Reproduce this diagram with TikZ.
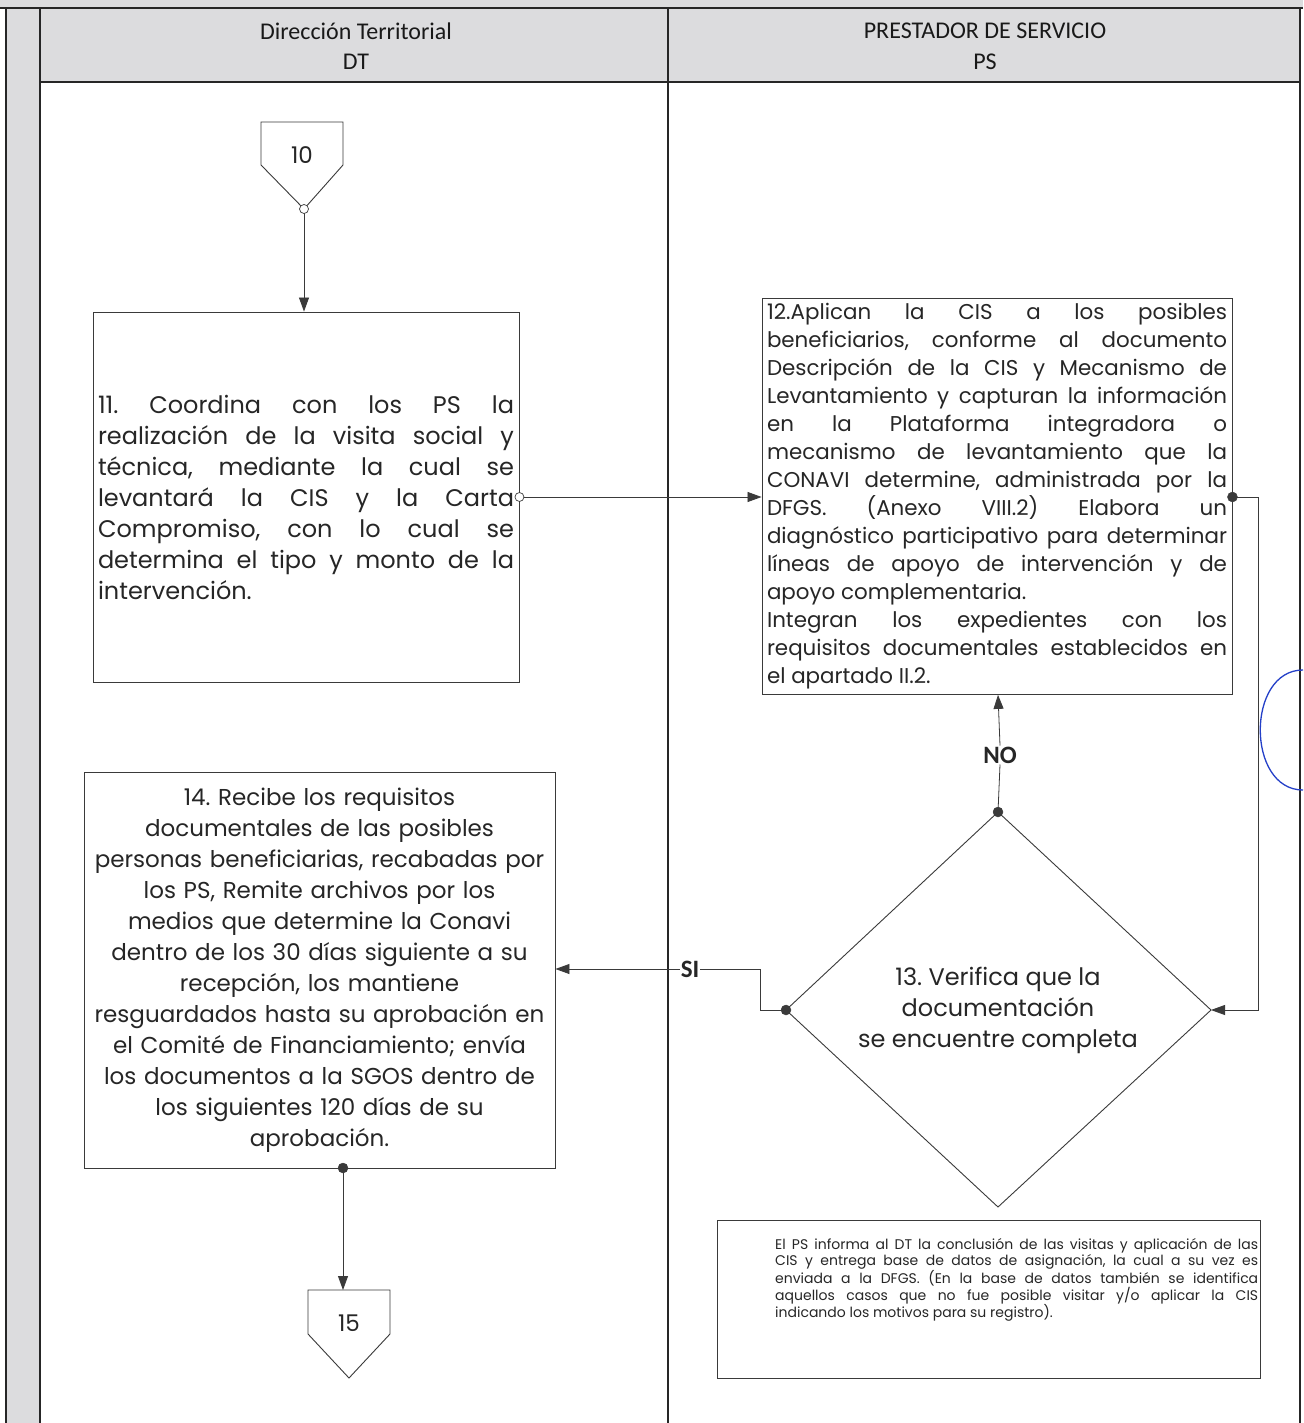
\documentclass[tikz,border=0pt]{standalone}
\usepackage{fontspec}
\setmainfont{Poppins}
\newfontfamily\hdrfont{Carlito}
\usetikzlibrary{arrows.meta,calc}
\frenchspacing
\definecolor{lanegray}{HTML}{DCDCDE}
\definecolor{inkgray}{HTML}{3A3A3A}
\definecolor{penblue}{HTML}{2440C8}

\begin{document}
\begin{tikzpicture}[x=1pt,y=-1pt,
  laneline/.style={draw=black!85, line width=1.5pt},
  boxline/.style={draw=inkgray, line width=0.9pt},
  flow/.style={draw=inkgray, line width=0.8pt},
  tip/.style={-{Triangle[length=14pt,width=10pt]}},
  hdr/.style={font=\hdrfont\fontsize{24}{31}\selectfont, text=black!90},
  stepbox/.style={boxline, inner sep=5pt, anchor=center, text=black!85},
  answer/.style={font=\hdrfont\bfseries\fontsize{25}{25}\selectfont, fill=white, inner sep=1pt, text=black!85},
  dot/.style={fill=inkgray, draw=inkgray},
  ring/.style={fill=white, draw=inkgray, line width=0.7pt}
]
\useasboundingbox (0,0) rectangle (1303,1423);
\fill[white] (0,0) rectangle (1303,1423);

% frame, left strip and lane headers
\fill[lanegray] (0,0) rectangle (1303,8);
\fill[lanegray] (6,8) rectangle (40,1423);
\fill[lanegray] (40,8) rectangle (1300,82);
\draw[laneline] (0,8) -- (1303,8);
\draw[laneline] (40,82) -- (1300,82);
\draw[laneline] (6,8) -- (6,1423);
\draw[laneline] (40,8) -- (40,1423);
\draw[laneline] (668,8) -- (668,1423);
\draw[laneline] (1300,8) -- (1300,1423);

\node[hdr] (hDT) at (356,31) {Dirección Territorial};
\node[hdr] (hDTs) at (356,62) {DT};
\node[hdr] (hPS) at (985,31) {PRESTADOR DE SERVICIO};
\node[hdr] (hPSs) at (985,62) {PS};

% off-page connector 10
\coordinate (p10a) at (261,122);
\coordinate (p10b) at (343,122);
\coordinate (p10tip) at (304,209);
\draw[boxline] (p10a) -- (p10b) -- (343,165) -- (p10tip) -- (261,165) -- cycle;
\node[font=\fontsize{23}{23}\selectfont, text=black!85] (n10) at (302,155) {10};

% step 11
\node[stepbox, minimum width=426pt, minimum height=370pt, text width=416pt,
      align=justify, font=\fontsize{24}{31}\selectfont] (b11) at (306,497)
{11.\ Coordina con los PS la\linebreak
realización de la visita social y\linebreak
técnica, mediante la cual se\linebreak
levantará la CIS y la Carta\linebreak
Compromiso, con lo cual se\linebreak
determina el tipo y monto de la\linebreak
intervención.};

% step 12
\node[stepbox, minimum width=470pt, minimum height=395pt, text width=460pt,
      align=justify, font=\fontsize{21.4}{28}\selectfont] (b12) at (997,496.5)
{12.Aplican la CIS a los posibles\linebreak
beneficiarios, conforme al documento\linebreak
Descripción de la CIS y Mecanismo de\linebreak
Levantamiento y capturan la información\linebreak
en la Plataforma integradora o\linebreak
mecanismo de levantamiento que la\linebreak
CONAVI determine, administrada por la\linebreak
DFGS. (Anexo VIII.2) Elabora un\linebreak
diagnóstico participativo para determinar\linebreak
líneas de apoyo de intervención y de\linebreak
apoyo complementaria.\par
Integran los expedientes con los\linebreak
requisitos documentales establecidos en\linebreak
el apartado II.2.};

% decision 13
\coordinate (d13t) at (998,812);
\coordinate (d13l) at (786,1010);
\coordinate (d13r) at (1211,1010);
\coordinate (d13b) at (998,1207);
\draw[boxline] (d13t) -- (d13r) -- (d13b) -- (d13l) -- cycle;
\node[font=\fontsize{24}{31}\selectfont, align=center, text=black!85] (d13) at (998,1010)
{13. Verifica que la\\ documentación\\ se encuentre completa};

% step 14
\node[stepbox, minimum width=471pt, minimum height=396pt, text width=461pt,
      align=center, font=\fontsize{23}{31}\selectfont] (b14) at (319.5,970)
{14. Recibe los requisitos\\
documentales de las posibles\\
personas beneficiarias, recabadas por\\
los PS, Remite archivos por los\\
medios que determine la Conavi\\
dentro de los 30 días siguiente a su\\
recepción, los mantiene\\
resguardados hasta su aprobación en\\
el Comité de Financiamiento; envía\\
los documentos a la SGOS dentro de\\
los siguientes 120 días de su\\
aprobación.};

% off-page connector 15
\coordinate (p15a) at (308,1290);
\coordinate (p15b) at (390,1290);
\coordinate (p15tip) at (349,1378);
\draw[boxline] (p15a) -- (p15b) -- (390,1334) -- (p15tip) -- (308,1334) -- cycle;
\node[font=\fontsize{23}{23}\selectfont, text=black!85] (n15) at (349,1323) {15};

% note on the service provider lane
\draw[boxline] (717,1220) rectangle (1260,1378);
\node[anchor=north west, inner sep=0pt, text width=483pt, align=justify,
      font=\fontsize{14}{16.5}\selectfont, text=black!85] (note) at (775,1238)
{El PS informa al DT la conclusión de las visitas y aplicación de las\linebreak
CIS y entrega base de datos de asignación, la cual a su vez es\linebreak
enviada a la DFGS. (En la base de datos también se identifica\linebreak
aquellos casos que no fue posible visitar y/o aplicar la CIS\linebreak
indicando los motivos para su registro).};

% connectors
\draw[flow, tip] (p10tip) -- (b11.north -| p10tip);
\draw[ring] (p10tip) circle (4.5pt);

\coordinate (c11) at (b11.east |- 0,497);
\draw[flow, tip] (c11) -- (b12.west |- c11);
\draw[ring] (c11) circle (4.5pt);

\coordinate (c12) at (b12.east |- 0,497);
\draw[flow, tip] (c12) -- (1258,497) -- (1258,1010) -- (d13r);
\fill[dot] (c12) circle (5pt);

\node[answer] (no) at (1000,755) {NO};
\draw[flow] (d13t) -- (no.south);
\draw[flow, tip] (no.north) -- (b12.south -| d13t);
\fill[dot] (d13t) circle (5pt);

\node[answer] (si) at (690,969) {SI};
\draw[flow] (d13l) -- (760,1010) -- (760,969) -- (si.east);
\draw[flow, tip] (si.west) -- (b14.east |- si);
\fill[dot] (d13l) circle (5pt);

\coordinate (c14) at (343,1168);
\draw[flow, tip] (c14) -- (p15a -| c14);
\fill[dot] (c14) circle (5pt);

% blue pen mark at the right margin
\draw[penblue, line width=1.3pt] (1303,670) .. controls (1246,670) and (1246,790) .. (1303,790);
\end{tikzpicture}
\end{document}
